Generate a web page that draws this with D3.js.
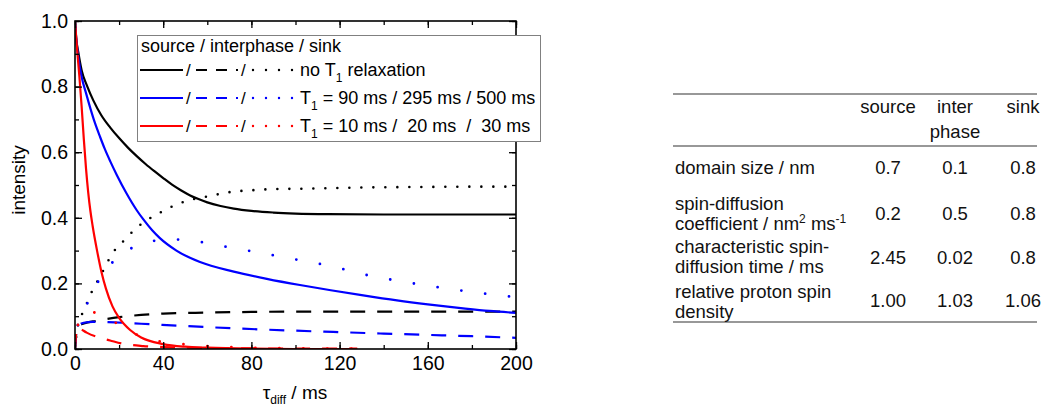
<!DOCTYPE html>
<html><head><meta charset="utf-8">
<script src="https://cdn.jsdelivr.net/npm/d3@7"></script>
<style>
body{margin:0;background:#fff}
text{font-family:"Liberation Sans",Arial,sans-serif}
</style>
</head><body>
<svg id="c" width="1043" height="407"></svg>
<script>
// ---- data ----
// no T1 relaxation (black)
const blackSourceT = [0,0.5,1.5,3,5.6,8.3,12,16,20,24,28,32,36,40,44,48,52,56,60,66,72,80,90,100,115,140,200];
const blackSourceV = [1.0,0.95,0.905,0.85,0.8,0.758,0.712,0.675,0.643,0.614,0.588,0.564,0.542,0.521,0.501,0.484,0.469,0.457,0.447,0.436,0.428,0.421,0.416,0.413,0.411,0.41,0.41];
const blackInterT = [0,1,4,10,20,30,40,60,80,100,140,200];
const blackInterV = [0,0.068,0.078,0.086,0.097,0.104,0.108,0.111,0.113,0.114,0.114,0.114];
const blackSinkT = [0,1,2,4,6,8,10,11.6,14.4,17.8,22.7,28,33.4,39,44.6,50,55,61,66.5,72,78,88,105,120,138,160,180,200];
const blackSinkV = [0,0.06,0.09,0.115,0.15,0.18,0.205,0.223,0.261,0.299,0.334,0.37,0.396,0.417,0.436,0.45,0.459,0.466,0.474,0.48,0.483,0.487,0.489,0.491,0.493,0.494,0.495,0.495];
// T1 = 90 / 295 / 500 ms (blue)
const blueSourceT = [0,0.5,1.5,3,5,7,9,11.3,13.5,16,19,23.4,28,31,35,38.5,46,56.7,72,87,102,116,130,146,160,176,188,200];
const blueSourceV = [1.0,0.95,0.89,0.83,0.78,0.733,0.69,0.648,0.61,0.572,0.53,0.474,0.423,0.395,0.362,0.338,0.3,0.265,0.236,0.214,0.195,0.179,0.164,0.148,0.136,0.124,0.116,0.11];
const blueInterT = [0,1,4,8,15,30,50,72,95,117,140,160,180,200];
const blueInterV = [0,0.068,0.08,0.083,0.082,0.077,0.07,0.063,0.057,0.052,0.047,0.043,0.039,0.034];
const blueSinkT = [0,1,2,4,6,8,10,12.5,16.6,22,28,33,39,45,50,61,72,83,95,106,117,132,149,165,182,200];
const blueSinkV = [0,0.06,0.09,0.115,0.145,0.175,0.2,0.223,0.261,0.294,0.314,0.326,0.332,0.334,0.332,0.322,0.307,0.295,0.279,0.266,0.251,0.226,0.205,0.188,0.172,0.158];
// T1 = 10 / 20 / 30 ms (red)
const redSourceT = [0,1,2,3,4,5,6,7,8,10,12,14,17,20,25,30,40,50,60,80,100,128];
const redSourceV = [1.0,0.91,0.83,0.74,0.64,0.55,0.477,0.42,0.375,0.3,0.235,0.185,0.13,0.095,0.058,0.035,0.015,0.007,0.004,0.001,0,0];
const redInterT = [0,1,2.3,5.3,11.3,15.9,21,31,40,50,60,80,100,128];
const redInterV = [0,0.066,0.062,0.05,0.034,0.026,0.017,0.009,0.006,0.004,0.003,0.002,0.001,0.001];
const redSinkT = [0,1,2,4,7,10,13,16,19,22,26,30,35,40,50,60,70,80,100,128];
const redSinkV = [0,0.06,0.09,0.107,0.112,0.11,0.103,0.09,0.078,0.066,0.05,0.038,0.028,0.021,0.014,0.009,0.006,0.004,0.002,0.001];

const xTicks = [0,40,80,120,160,200];
const yTicks = [0,0.2,0.4,0.6,0.8,1.0];
const legendTitle = "source / interphase / sink";
const legendLabels = [["no T","1"," relaxation"],["T","1"," = 90 ms / 295 ms / 500 ms"],["T","1"," = 10 ms /  20 ms  /  30 ms"]];
const tableCols = [["source"],["inter","phase"],["sink"]];
const tableRows = [["domain size / nm"],["spin-diffusion","coefficient / nm2 ms-1"],["characteristic spin-","diffusion time / ms"],["relative proton spin","density"]];
const tableVals = [["0.7","0.1","0.8"],["0.2","0.5","0.8"],["2.45","0.02","0.8"],["1.00","1.03","1.06"]];

// ---- drawing ----
const svg = d3.select("#c");
const x = d3.scaleLinear([0,200],[75,516]);
const y = d3.scaleLinear([0,1],[349,21]);

svg.append("clipPath").attr("id","clip").append("rect")
  .attr("x",75).attr("y",21).attr("width",441).attr("height",328);

const series = [
  {t:blackSourceT,v:blackSourceV,c:"#000",d:null,w:2.2},
  {t:blackInterT,v:blackInterV,c:"#000",d:"15,12",w:2.2},
  {t:blackSinkT,v:blackSinkV,c:"#000",d:"0,12",w:2.6},
  {t:blueSourceT,v:blueSourceV,c:"#0000ff",d:null,w:2.2},
  {t:blueInterT,v:blueInterV,c:"#0000ff",d:"15,12",w:2.2},
  {t:blueSinkT,v:blueSinkV,c:"#0000ff",d:"0,24",w:2.8},
  {t:redSourceT,v:redSourceV,c:"#ff0000",d:null,w:2.2},
  {t:redInterT,v:redInterV,c:"#ff0000",d:"15,12",w:2.2},
  {t:redSinkT,v:redSinkV,c:"#ff0000",d:"0,24",w:2.8}
];
const line = d3.line().x(d=>x(d[0])).y(d=>y(d[1])).curve(d3.curveMonotoneX);
const g = svg.append("g").attr("clip-path","url(#clip)");
series.forEach(s=>{
  g.append("path").datum(s.t.map((t,i)=>[t,s.v[i]]))
   .attr("d",line).attr("fill","none").attr("stroke",s.c)
   .attr("stroke-width",s.w).attr("stroke-dasharray",s.d)
   .attr("stroke-linecap",s.d && s.d.startsWith("0")?"round":"butt");
});

// axes
function styleAxis(sel){
  sel.select(".domain").remove();
  sel.selectAll("line").attr("stroke","#000").attr("stroke-width",1.3);
  sel.selectAll("text").attr("font-size",19.5).attr("fill","#000").style("font-family","'Liberation Sans',Arial,sans-serif");
}
const minorX = d3.range(0,201,20), minorY = d3.range(0,1.01,0.1);
svg.append("g").attr("transform","translate(0,349)").call(d3.axisBottom(x).tickValues(minorX).tickSize(-4).tickFormat("")).call(styleAxis);
svg.append("g").attr("transform","translate(0,349)").call(d3.axisBottom(x).tickValues(xTicks).tickSize(-7).tickPadding(7).tickFormat(d3.format("d"))).call(styleAxis);
svg.append("g").attr("transform","translate(0,21)").call(d3.axisTop(x).tickValues(minorX).tickSize(-4).tickFormat("")).call(styleAxis);
svg.append("g").attr("transform","translate(0,21)").call(d3.axisTop(x).tickValues(xTicks).tickSize(-7).tickFormat("")).call(styleAxis);
svg.append("g").attr("transform","translate(75,0)").call(d3.axisLeft(y).tickValues(minorY).tickSize(-4).tickFormat("")).call(styleAxis);
svg.append("g").attr("transform","translate(75,0)").call(d3.axisLeft(y).tickValues(yTicks).tickSize(-7).tickPadding(7).tickFormat(d3.format(".1f"))).call(styleAxis);
svg.append("g").attr("transform","translate(516,0)").call(d3.axisRight(y).tickValues(minorY).tickSize(-4).tickFormat("")).call(styleAxis);
svg.append("g").attr("transform","translate(516,0)").call(d3.axisRight(y).tickValues(yTicks).tickSize(-7).tickFormat("")).call(styleAxis);
svg.append("rect").attr("x",75).attr("y",21).attr("width",441).attr("height",328)
  .attr("fill","none").attr("stroke","#000").attr("stroke-width",1.6);

// axis titles
const xt = svg.append("text").attr("x",295).attr("y",399).attr("text-anchor","middle").attr("font-size",19);
xt.append("tspan").text("τ");
xt.append("tspan").attr("font-size",12).attr("dy",5).text("diff");
xt.append("tspan").attr("dy",-5).text(" / ms");
svg.append("text").attr("transform","translate(25,180) rotate(-90)").attr("text-anchor","middle").attr("font-size",19).text("intensity");

// legend
const lg = svg.append("g");
lg.append("rect").attr("x",137.5).attr("y",35.5).attr("width",403).attr("height",106)
  .attr("fill","#fff").attr("stroke","#808080").attr("stroke-width",1);
lg.append("text").attr("x",141).attr("y",52).attr("font-size",18).text(legendTitle);
const colors = ["#000","#0000ff","#ff0000"];
const rowsY = [70,98,126];
legendLabels.forEach((lab,i)=>{
  const yy = rowsY[i], c = colors[i];
  lg.append("line").attr("x1",140).attr("x2",183).attr("y1",yy).attr("y2",yy).attr("stroke",c).attr("stroke-width",2.2);
  lg.append("text").attr("x",186).attr("y",yy+6).attr("font-size",17).text("/");
  lg.append("line").attr("x1",196).attr("x2",238).attr("y1",yy).attr("y2",yy).attr("stroke",c).attr("stroke-width",2.2).attr("stroke-dasharray","11,9");
  lg.append("text").attr("x",241).attr("y",yy+6).attr("font-size",17).text("/");
  lg.append("line").attr("x1",253).attr("x2",294).attr("y1",yy).attr("y2",yy).attr("stroke",c).attr("stroke-width",2.4).attr("stroke-dasharray","0,13").attr("stroke-linecap","round");
  const t = lg.append("text").attr("x",300).attr("y",yy+6).attr("font-size",18).style("white-space","pre");
  t.append("tspan").text(lab[0]);
  t.append("tspan").attr("font-size",12).attr("dy",6).text(lab[1]);
  t.append("tspan").attr("dy",-6).text(lab[2]);
});

// table
const tb = svg.append("g").attr("fill","#111");
[94,146,322].forEach(yy=>tb.append("line").attr("x1",673).attr("x2",1037).attr("y1",yy).attr("y2",yy).attr("stroke","#333").attr("stroke-width",1.2));
const colX = [888,955,1023];
const fs = 18.5;
tableCols.forEach((c,i)=>c.forEach((s,j)=>tb.append("text").attr("x",colX[i]).attr("y",113+j*25).attr("text-anchor","middle").attr("font-size",fs).text(s)));
const rowBase = [[174],[210,230],[253,273],[298,318]];
const valBase = [174,220,264,307];
tableRows.forEach((r,i)=>{
  r.forEach((s,j)=>{
    const t = tb.append("text").attr("x",675).attr("y",rowBase[i][j]).attr("font-size",fs);
    if(s.startsWith("coefficient")){
      t.append("tspan").text("coefficient / nm");
      t.append("tspan").attr("font-size",12).attr("dy",-7).text("2");
      t.append("tspan").attr("dy",7).text(" ms");
      t.append("tspan").attr("font-size",12).attr("dy",-7).text("-1");
    } else t.text(s);
  });
  tableVals[i].forEach((v,k)=>tb.append("text").attr("x",colX[k]).attr("y",valBase[i]).attr("text-anchor","middle").attr("font-size",fs).text(v));
});
</script>
</body></html>
